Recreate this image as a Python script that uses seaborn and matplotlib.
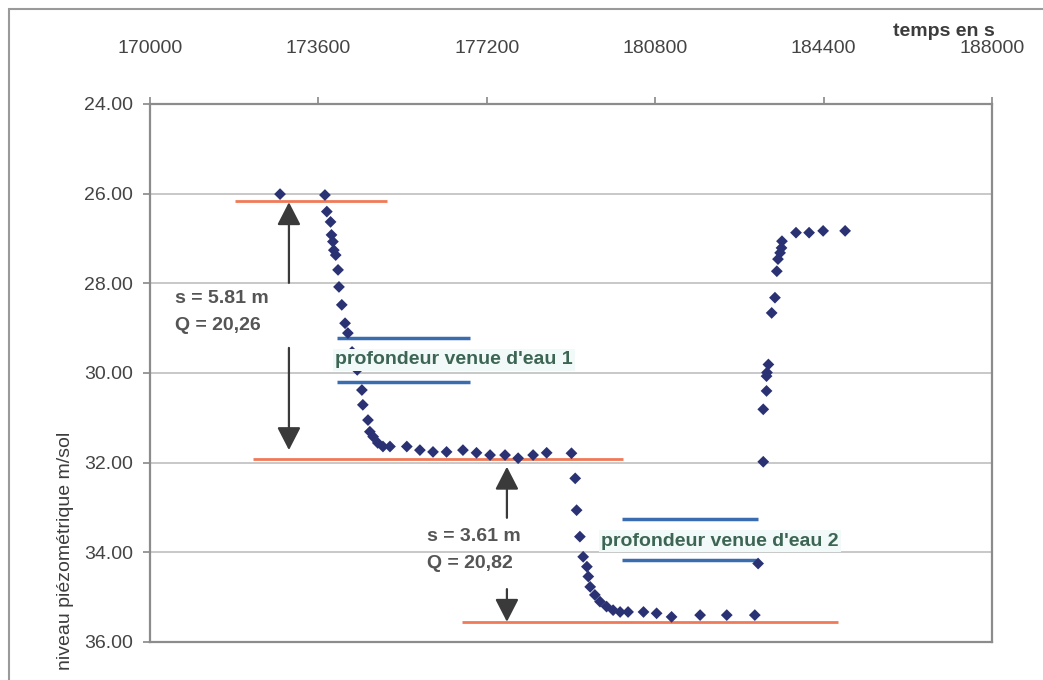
import numpy as np
import matplotlib
matplotlib.use('Agg')
import matplotlib.pyplot as plt
import seaborn as sns
import pandas as pd

temps = [172780, 173740, 173780, 173860, 173880, 173910, 173930, 173970,
         174020, 174040, 174100, 174170, 174230, 174320, 174430, 174530,
         174550, 174660, 174700, 174770, 174870, 174980, 175130, 175490,
         175770, 176050, 176340, 176690, 176980, 177270, 177590, 177870,
         178190, 178480, 179010, 179090, 179120, 179190, 179260, 179340,
         179370, 179410, 179510, 179620, 179760, 179900, 180050, 180220,
         180550, 180830, 181150, 181760, 182330, 182930, 183000, 183110,
         183110, 183180, 183180, 183190, 183220, 183290, 183360, 183400,
         183425, 183470, 183500, 183510, 183810, 184090, 184390, 184860]
niveau = [26.01, 26.03, 26.40, 26.63, 26.92, 27.07, 27.26, 27.37,
          27.70, 28.08, 28.48, 28.89, 29.11, 29.53, 29.93, 30.38,
          30.71, 31.05, 31.31, 31.42, 31.56, 31.64, 31.64, 31.64,
          31.72, 31.76, 31.76, 31.72, 31.78, 31.83, 31.83, 31.90,
          31.83, 31.78, 31.79, 32.35, 33.06, 33.65, 34.10, 34.32,
          34.54, 34.77, 34.95, 35.10, 35.21, 35.29, 35.33, 35.33,
          35.33, 35.36, 35.44, 35.40, 35.40, 35.40, 34.25, 31.98,
          30.81, 30.40, 30.07, 29.99, 29.81, 28.66, 28.32, 27.73,
          27.46, 27.32, 27.21, 27.06, 26.87, 26.87, 26.83, 26.83]

# niveaux de reference (traits orange) : debut, fin, niveau
ref_x0 = [171820, 172200, 176660]
ref_x1 = [175070, 180110, 184710]
ref_y = [26.16, 31.92, 35.55]

# profondeurs des venues d'eau (traits bleus)
venue_x0 = [173990, 173990, 180080, 180080]
venue_x1 = [176840, 176840, 183000, 183000]
venue_y = [29.23, 30.19, 33.26, 34.16]
venue_labels = ["profondeur venue d'eau 1", "profondeur venue d'eau 2"]
venue_label_x = [173955, 179640]
venue_label_y = [29.71, 33.75]

# rabattements : position de la fleche, haut, bas, texte
rab_x = [172970, 177630]
rab_haut = [26.19, 32.09]
rab_bas = [31.72, 35.55]
rab_txt_haut = [27.99, 33.23]
rab_txt_bas = [29.44, 34.82]
rab_s = ["s = 5.81 m", "s = 3.61 m"]
rab_q = ["Q = 20,26", "Q = 20,82"]
rab_label_x = [170530, 175920]
rab_label_y = [28.33, 33.65]

xticks = [170000, 173600, 177200, 180800, 184400, 188000]
yticks = [24, 26, 28, 30, 32, 34, 36]

sns.set_style('white')
plt.rcParams['font.family'] = ['Liberation Sans', 'DejaVu Sans']

fig = plt.figure(figsize=(10.43, 6.8), dpi=100)
ax = fig.add_axes([150/1043, 1 - 642/680, 842/1043, 538/680])

grey = '#444444'
for yv in yticks[1:-1]:
    ax.axhline(yv, color='#c4c4c4', lw=1.3, zorder=0)

ax.hlines(ref_y, ref_x0, ref_x1, color='#f07a58', lw=2, zorder=2)
ax.hlines(venue_y, venue_x0, venue_x1, color='#3a6cb0', lw=2.5, zorder=2)

df = pd.DataFrame({'temps': temps, 'niveau': niveau})
sns.scatterplot(data=df, x='temps', y='niveau', marker='D', s=36,
                color='#2b3274', edgecolor='none', ax=ax, zorder=3)

for lab, lx, ly in zip(venue_labels, venue_label_x, venue_label_y):
    ax.text(lx, ly, lab, fontsize=14, fontweight='bold', color='#3d6554',
            va='center', ha='left', zorder=4,
            bbox=dict(boxstyle='square,pad=0.12', fc='#f1f9f9', ec='none'))

arrow = dict(arrowstyle='-|>,head_length=0.7,head_width=0.36', color='#3a3a3a',
             lw=1.6, mutation_scale=20, shrinkA=0, shrinkB=0)
for i in range(2):
    ax.annotate('', xy=(rab_x[i], rab_haut[i]), xytext=(rab_x[i], rab_txt_haut[i]),
                arrowprops=arrow, zorder=5)
    ax.annotate('', xy=(rab_x[i], rab_bas[i]), xytext=(rab_x[i], rab_txt_bas[i]),
                arrowprops=arrow, zorder=5)
    ax.text(rab_label_x[i], rab_label_y[i], rab_s[i], fontsize=14,
            fontweight='semibold', color='#555555', va='center')
    ax.text(rab_label_x[i], rab_label_y[i] + 0.6, rab_q[i], fontsize=14,
            fontweight='semibold', color='#555555', va='center')

ax.set_xlim(170000, 188000)
ax.set_ylim(36, 24)
ax.xaxis.tick_top()
ax.set_xticks(xticks)
ax.set_xticklabels([str(t) for t in xticks])
ax.set_yticks(yticks)
ax.set_yticklabels(['%.2f' % t for t in yticks])
ax.tick_params(axis='x', top=True, bottom=False, length=5, width=1.2,
               color='#888888', pad=29, labelsize=14, labelcolor=grey)
ax.tick_params(axis='y', left=True, length=5, width=1.2, color='#888888',
               pad=7, labelsize=14, labelcolor=grey)
ax.set_xlabel('')
ax.set_ylabel('')
for sp in ax.spines.values():
    sp.set_color('#8c8c8c')
    sp.set_linewidth(1.6)

fig.text(995/1043, 1 - 32/680, 'temps en s', fontsize=14, fontweight='bold',
         color='#3c3c3c', ha='right', va='center')
fig.text(66/1043, 1 - 670/680, 'niveau piézométrique m/sol', fontsize=14,
         color='#3c3c3c', rotation=90, ha='center', va='bottom')

# cadre exterieur du graphique
fig.add_artist(plt.Rectangle((9/1043, -0.1), 1.2, 1.1 - 9/680,
                             transform=fig.transFigure, fill=False,
                             ec='#9a9a9a', lw=1.5))

fig.savefig('out.png', dpi=100)
